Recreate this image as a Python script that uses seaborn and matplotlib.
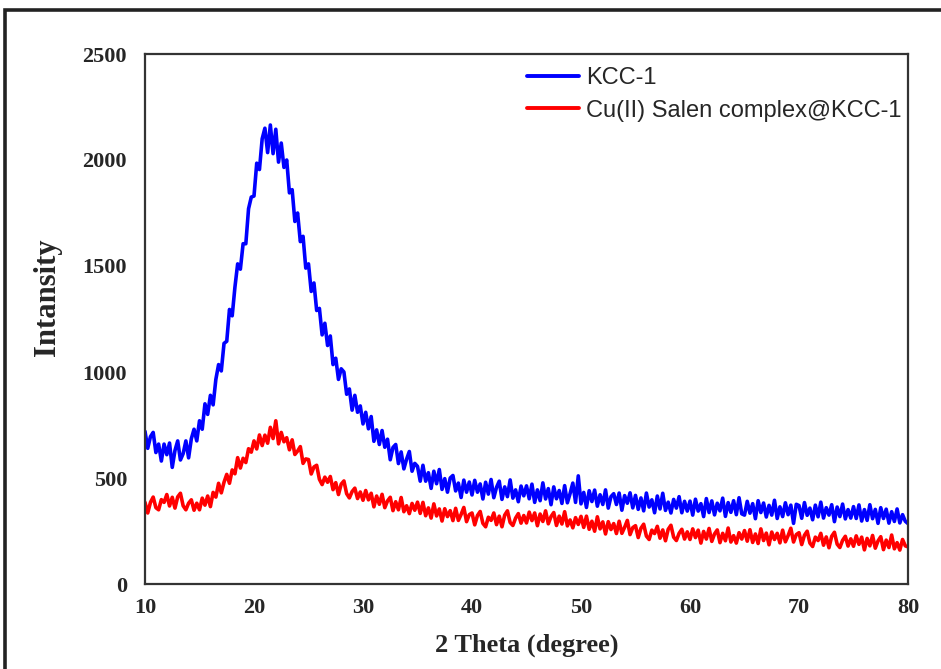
import numpy as np
import pandas as pd
import matplotlib
matplotlib.use("Agg")
import matplotlib.pyplot as plt
import seaborn as sns
from matplotlib.patches import Rectangle

# 2-theta step (degrees) of the digitised patterns, from 10 to 80
theta_start, theta_step = 10.0, 0.25

kcc1 = [
    720, 640, 695, 715, 620, 660, 580, 660, 610, 665, 550, 630, 675, 585, 615, 675, 595, 685, 730, 675,
    770, 730, 850, 800, 890, 845, 965, 1035, 1005, 1135, 1145, 1295, 1265, 1400, 1510, 1485, 1605, 1605, 1770, 1825,
    1830, 1985, 1955, 2100, 2150, 2035, 2165, 2030, 2145, 1990, 2080, 1965, 2000, 1845, 1860, 1710, 1750, 1615, 1640, 1490,
    1510, 1380, 1420, 1290, 1300, 1175, 1230, 1125, 1170, 1035, 1065, 965, 1015, 1000, 895, 920, 820, 890, 810, 840,
    755, 810, 732, 790, 673, 727, 658, 724, 645, 683, 586, 644, 658, 568, 623, 543, 589, 625, 532, 569,
    555, 485, 560, 485, 525, 451, 532, 473, 540, 446, 497, 433, 500, 512, 439, 476, 408, 490, 433, 481,
    420, 489, 433, 472, 401, 480, 424, 493, 407, 456, 485, 399, 458, 412, 491, 405, 444, 388, 462, 416,
    463, 402, 471, 385, 444, 393, 477, 401, 450, 374, 458, 402, 441, 380, 464, 383, 427, 476, 385, 510,
    378, 432, 361, 440, 389, 443, 367, 421, 375, 444, 358, 412, 426, 375, 429, 348, 417, 381, 430, 359,
    418, 352, 406, 345, 429, 363, 397, 336, 415, 354, 428, 347, 386, 335, 399, 358, 412, 336, 390, 344,
    391, 325, 400, 344, 379, 318, 403, 337, 392, 326, 381, 345, 405, 319, 384, 338, 393, 327, 407, 331,
    325, 390, 334, 379, 308, 393, 337, 382, 316, 371, 325, 395, 309, 364, 318, 383, 327, 372, 286, 376,
    370, 310, 384, 324, 358, 303, 372, 317, 386, 311, 360, 325, 374, 294, 363, 318, 377, 307, 351, 311,
    365, 309, 373, 297, 351, 300, 374, 308, 352, 286, 360, 309, 353, 287, 341, 295, 354, 288, 327, 296,
    285,
]

cu_salen = [
    385, 335, 385, 410, 360, 350, 398, 385, 422, 368, 409, 358, 411, 428, 369, 350, 381, 397, 348, 381,
    350, 405, 372, 415, 365, 432, 410, 475, 430, 480, 517, 475, 538, 520, 596, 547, 593, 573, 638, 622,
    675, 637, 703, 653, 702, 664, 739, 686, 770, 661, 715, 671, 690, 633, 680, 611, 627, 648, 569, 590,
    587, 519, 552, 560, 494, 469, 504, 480, 507, 445, 478, 422, 471, 486, 426, 406, 436, 452, 403, 434,
    395, 441, 397, 428, 364, 415, 376, 423, 360, 392, 409, 346, 388, 350, 408, 341, 369, 332, 380, 348,
    386, 333, 385, 322, 359, 311, 378, 321, 354, 297, 355, 318, 346, 299, 357, 300, 328, 361, 294, 327,
    335, 279, 323, 342, 286, 270, 315, 300, 335, 280, 320, 270, 325, 345, 290, 276, 311, 332, 287, 323,
    288, 339, 299, 335, 275, 330, 295, 345, 284, 318, 337, 276, 320, 283, 341, 274, 302, 265, 313, 281,
    319, 267, 320, 258, 296, 249, 317, 260, 293, 236, 294, 257, 285, 238, 296, 239, 267, 300, 233, 266,
    275, 219, 263, 282, 226, 210, 254, 238, 272, 216, 255, 204, 258, 277, 221, 205, 239, 258, 212, 246,
    210, 260, 219, 254, 193, 248, 212, 262, 201, 236, 255, 195, 239, 204, 264, 198, 228, 193, 242, 212,
    252, 202, 256, 196, 236, 191, 260, 205, 240, 185, 245, 210, 239, 194, 254, 199, 228, 263, 198, 233,
    242, 186, 230, 249, 193, 177, 221, 205, 239, 183, 222, 171, 225, 244, 188, 172, 206, 225, 179, 213,
    178, 227, 187, 221, 161, 215, 180, 229, 169, 203, 223, 162, 207, 172, 231, 166, 195, 160, 210, 180,
    175,
]

series_names = ["KCC-1", "Cu(II) Salen complex@KCC-1"]
series_colors = ["#0000FF", "#FF0000"]
x_ticks = [10, 20, 30, 40, 50, 60, 70, 80]
y_ticks = [0, 500, 1000, 1500, 2000, 2500]

theta = theta_start + theta_step * np.arange(len(kcc1))
df = pd.concat([
    pd.DataFrame({"theta": theta, "I": kcc1, "sample": series_names[0]}),
    pd.DataFrame({"theta": theta, "I": cu_salen, "sample": series_names[1]}),
], ignore_index=True)

sns.set_style("white")
plt.rcParams["font.family"] = ["Liberation Serif", "DejaVu Serif"]

fig = plt.figure(figsize=(9.41, 6.69), dpi=100)
ax = fig.add_axes([145/941, 1-584/669, (908-145)/941, (584-54)/669])

sns.lineplot(data=df, x="theta", y="I", hue="sample", palette=series_colors,
             hue_order=series_names, linewidth=2.6, ax=ax, legend=False,
             estimator=None, sort=False)

ax.set_xlim(10, 80)
ax.set_ylim(0, 2500)
ax.set_xticks(x_ticks)
ax.set_yticks(y_ticks)
ax.tick_params(axis="both", length=0, labelsize=16)
ax.tick_params(axis="x", pad=10)
ax.tick_params(axis="y", pad=13)
for lab in ax.get_xticklabels() + ax.get_yticklabels():
    lab.set_fontweight("bold")

ax.set_xlabel("2 Theta (degree)", fontsize=19, fontweight="bold", labelpad=11)
ax.set_ylabel("Intansity", fontsize=22, fontweight="bold")
ax.yaxis.set_label_coords((62-145)/763, 1-(297-54)/530)

for sp in ax.spines.values():
    sp.set_visible(True)
    sp.set_color("#333333")
    sp.set_linewidth(1.6)

handles = [plt.Line2D([], [], color=c, linewidth=2.8) for c in series_colors]
ax.legend(handles, series_names, loc="upper left",
          bbox_to_anchor=((527-145)/763, 1-(67-54)/530),
          frameon=False, borderpad=0, borderaxespad=0, handlelength=2.2,
          handletextpad=0.3, labelspacing=0.45,
          prop={"family": "Liberation Sans", "size": 17})

fig.patches.append(Rectangle((5/941, -0.1), 1.2, 1.1 - 10/669,
                             transform=fig.transFigure, fill=False,
                             edgecolor="#222222", linewidth=2.6, clip_on=False))

fig.savefig("out.png", dpi=100)
